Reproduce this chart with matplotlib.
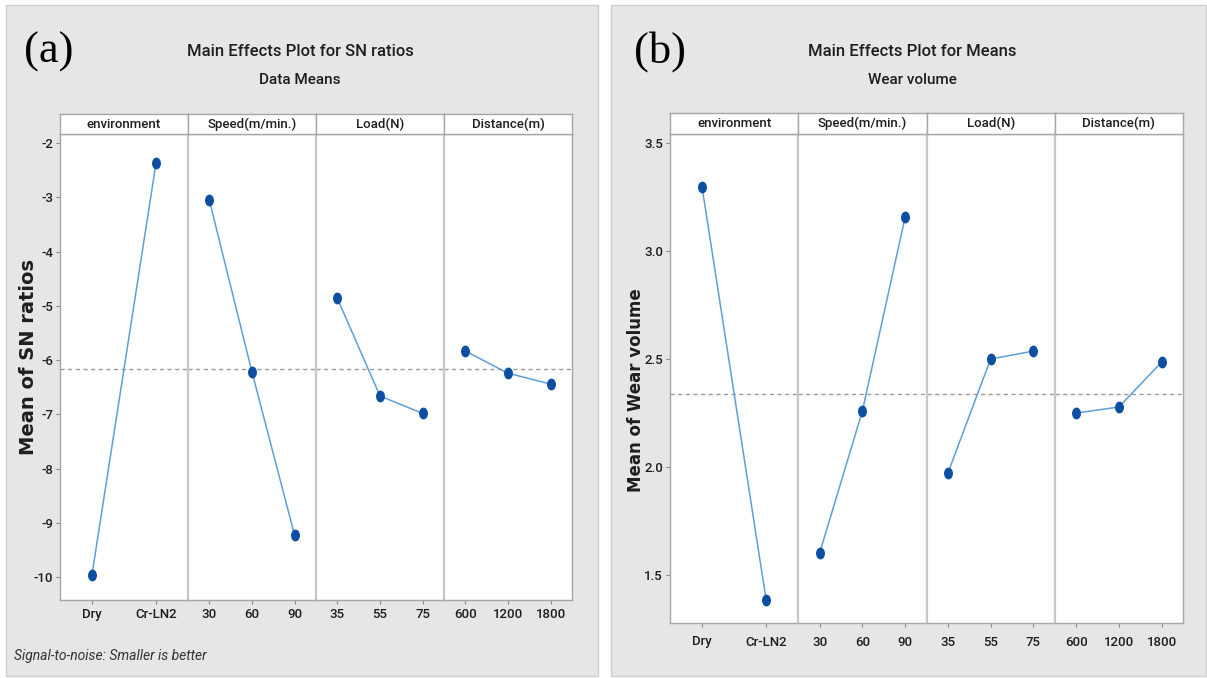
import matplotlib
matplotlib.use("Agg")
import matplotlib.pyplot as plt
import matplotlib.patches as mpatches
from matplotlib.path import Path
from matplotlib.transforms import Affine2D
import numpy as np

# ---------------- data ----------------
factors = ["environment", "Speed(m/min.)", "Load(N)", "Distance(m)"]
env_levels = ["Dry", "Cr-LN2"]
speed_levels = ["30", "60", "90"]
load_levels = ["35", "55", "75"]
dist_levels = ["600", "1200", "1800"]

# (a) Mean of SN ratios
sn_env = [-9.95, -2.37]
sn_speed = [-3.05, -6.22, -9.23]
sn_load = [-4.86, -6.66, -6.98]
sn_dist = [-5.83, -6.24, -6.44]
sn_mean = -6.16
sn_yticks = [-2, -3, -4, -5, -6, -7, -8, -9, -10]

# (b) Mean of Wear volume
wv_env = [3.296, 1.384]
wv_speed = [1.602, 2.259, 3.157]
wv_load = [1.972, 2.500, 2.537]
wv_dist = [2.250, 2.278, 2.486]
wv_mean = 2.338
wv_yticks = [1.5, 2.0, 2.5, 3.0, 3.5]
wv_yticklabels = ["1.5", "2.0", "2.5", "3.0", "3.5"]

levels = [env_levels, speed_levels, load_levels, dist_levels]

W, H = 1207, 678
fig = plt.figure(figsize=(W / 100, H / 100), dpi=100)
fig.patch.set_facecolor("white")

NARROW = ["Liberation Sans Narrow", "Roboto", "DejaVu Sans"]
GRAY_BG = "#e6e6e6"
LINE_C = "#5f9fd8"
MARK_C = "#0b4ea2"
FRAME_C = "#a6a6a6"
DIV_C = "#c8c8c8"
TXT_C = "#1e1e1e"
WT = "medium"

ell = Path.unit_circle().transformed(Affine2D().scale(0.72, 1.0))


def fx(x):
    return x / W


def fy(y):
    return 1 - y / H


def add_bg(x0, y0, x1, y1):
    r = mpatches.Rectangle((fx(x0), fy(y1)), fx(x1) - fx(x0), fy(y0) - fy(y1),
                           transform=fig.transFigure, facecolor=GRAY_BG,
                           edgecolor="#cfcfcf", lw=1.0, zorder=-5)
    fig.patches.append(r)


def panel(left, right, top, bottom, htop, data, ylim, yticks, yticklabels, mean, xpad):
    n = len(data)
    w = (right - left) / n
    axes = []
    for i in range(n):
        x0 = left + i * w
        ax = fig.add_axes([fx(x0), fy(bottom), w / W, (bottom - top) / H])
        ax.set_facecolor("white")
        nl = len(levels[i])
        xs = np.arange(nl)
        ax.axhline(mean, color="#9a9a9a", ls=(0, (3, 2.5)), lw=1.0, zorder=1)
        ax.plot(xs, data[i], color=LINE_C, lw=1.1, zorder=2)
        ax.plot(xs, data[i], ls="none", marker=ell, ms=7.5, color=MARK_C,
                mec=MARK_C, zorder=3)
        ax.set_xlim(-0.5, nl - 0.5)
        ax.set_ylim(*ylim)
        ax.set_xticks(xs)
        ax.set_xticklabels(levels[i], family=NARROW, fontsize=9.5, color=TXT_C,
                           fontweight=WT)
        ax.tick_params(axis="x", length=3, color="#888888", pad=xpad)
        for s in ["top", "bottom"]:
            ax.spines[s].set_color(FRAME_C)
            ax.spines[s].set_linewidth(1.0)
        ax.spines["left"].set_color(FRAME_C if i == 0 else DIV_C)
        ax.spines["left"].set_linewidth(1.0 if i == 0 else 1.6)
        ax.spines["right"].set_color(FRAME_C if i == n - 1 else DIV_C)
        ax.spines["right"].set_linewidth(1.0 if i == n - 1 else 1.6)
        if i == 0:
            ax.set_yticks(yticks)
            ax.set_yticklabels(yticklabels, family=NARROW, fontsize=9.5, color=TXT_C,
                               fontweight=WT)
            ax.tick_params(axis="y", length=3, color="#888888", pad=2)
        else:
            ax.set_yticks([])
        # header strip
        hax = fig.add_axes([fx(x0), fy(top), w / W, (top - htop) / H])
        hax.set_xticks([])
        hax.set_yticks([])
        hax.set_facecolor("white")
        for s in hax.spines.values():
            s.set_color(FRAME_C)
            s.set_linewidth(1.0)
        hax.text(0.5, 0.5, factors[i], ha="center", va="center",
                 family=NARROW, fontsize=9.5, color=TXT_C, fontweight=WT,
                 transform=hax.transAxes)
        axes.append(ax)
    return axes


# backgrounds
add_bg(6, 5, 598, 676)
add_bg(611, 5, 1206, 676)

# panel (a)
panel(60, 572, 134, 600, 114,
      [sn_env, sn_speed, sn_load, sn_dist],
      (-10.42, -1.83), sn_yticks, [str(t) for t in sn_yticks], sn_mean, 3)
# panel (b)
panel(670, 1183, 134, 623, 113,
      [wv_env, wv_speed, wv_load, wv_dist],
      (1.278, 3.542), wv_yticks, wv_yticklabels, wv_mean, 6)

# titles
fig.text(fx(300), fy(52), "Main Effects Plot for SN ratios", ha="center", va="center",
         family=NARROW, fontsize=12, fontweight=WT, color=TXT_C)
fig.text(fx(300), fy(80), "Data Means", ha="center", va="center",
         family=NARROW, fontsize=11, fontweight=WT, color=TXT_C)
fig.text(fx(912), fy(52), "Main Effects Plot for Means", ha="center", va="center",
         family=NARROW, fontsize=12, fontweight=WT, color=TXT_C)
fig.text(fx(912), fy(80), "Wear volume", ha="center", va="center",
         family=NARROW, fontsize=11, fontweight=WT, color=TXT_C)

# panel letters
fig.text(fx(24), fy(52), "(a)", ha="left", va="center",
         family=["Liberation Serif", "DejaVu Serif"], fontsize=32, color="black")
fig.text(fx(634), fy(52), "(b)", ha="left", va="center",
         family=["Liberation Serif", "DejaVu Serif"], fontsize=32, color="black")

# y labels
fig.text(fx(29), fy(357), "Mean of SN ratios", rotation=90, ha="center", va="center",
         family=["DejaVu Sans"], fontweight="bold", fontsize=14, color=TXT_C)
fig.text(fx(636), fy(390), "Mean of Wear volume", rotation=90, ha="center", va="center",
         family=["DejaVu Sans"], fontweight="bold", fontsize=12, color=TXT_C)

# footnote
fig.text(fx(14), fy(656), "Signal-to-noise: Smaller is better", ha="left", va="center",
         family=NARROW, style="italic", fontsize=10, color="#333333")

fig.savefig("out.png", dpi=100, facecolor="white")
